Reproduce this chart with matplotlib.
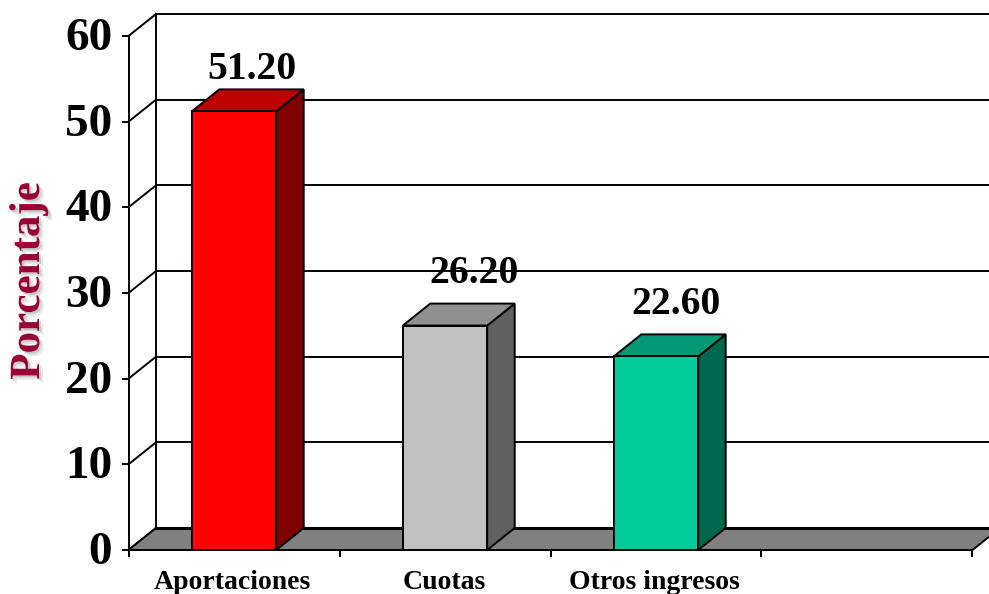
import matplotlib
matplotlib.use('Agg')
import matplotlib.pyplot as plt
import matplotlib.patheffects as pe
from matplotlib.patches import Polygon
from matplotlib.transforms import ScaledTranslation

categories = ['Aportaciones', 'Cuotas', 'Otros ingresos', '']
values = [51.20, 26.20, 22.60]
value_labels = ['51.20', '26.20', '22.60']
face_colors = ['#FF0000', '#C0C0C0', '#00CC99']
top_colors = ['#BF0000', '#909090', '#009973']
side_colors = ['#800000', '#606060', '#00664D']
y_ticks = [0, 10, 20, 30, 40, 50, 60]
# manual placement of the value labels, in pixels from the bar centre / bar top
label_dx_px = [18, 29, 20]
label_dy_px = [42, 52, 52]
cat_dx_px = [-1.5, -1, -2, 0]

W, H = 989, 594
plt.rcParams['font.family'] = ['Liberation Serif', 'DejaVu Serif']
fig = plt.figure(figsize=(W / 100, H / 100), dpi=100, facecolor='white')
L, R, B, T = 128.5, 972.5, 550, 36
ax = fig.add_axes([L / W, 1 - B / H, (R - L) / W, (B - T) / H])
ax.set_xlim(0, len(categories))
ax.set_ylim(0, 60)
ax.patch.set_visible(False)
for s in ['top', 'right', 'bottom', 'left']:
    ax.spines[s].set_visible(False)

# depth of the pseudo-3D box in data units
px_x = len(categories) / (R - L)
px_y = 60 / (B - T)
dx, dy = 27.5 * px_x, 22 * px_y
bar_dx, bar_dy = 27.5 * px_x, 22 * px_y
LW = 1.4
kw = dict(clip_on=False, edgecolor='black', linewidth=LW)

# walls and floor
n = len(categories)
ax.add_patch(Polygon([(0, 0), (n, 0), (n + dx, dy), (dx, dy)], facecolor='#808080', zorder=2, **kw))
ax.plot([dx, n + dx + 1], [dy, dy], color='black', lw=2.2, zorder=2.5, clip_on=False)
for t in y_ticks[1:]:
    ax.plot([dx, n + dx + 1], [t + dy, t + dy], color='black', lw=LW, zorder=1, clip_on=False)
ax.plot([dx, dx], [dy, 60 + dy], color='black', lw=LW, zorder=1, clip_on=False)
for t in y_ticks:
    ax.plot([0, dx], [t, t + dy], color='black', lw=LW, zorder=1, clip_on=False)
ax.plot([0, 0], [0, 60], color='black', lw=LW, zorder=3, clip_on=False)

# axis ticks
ax.set_yticks(y_ticks)
ax.set_xticks(range(n + 1))
ax.set_xticklabels([])
ax.tick_params(axis='y', length=5, width=LW, pad=6.7, labelsize=34)
ax.tick_params(axis='x', length=5, width=LW, direction='out')
lift = ScaledTranslation(0, 2 / 72 * 0.72, fig.dpi_scale_trans)
for lb in ax.get_yticklabels():
    lb.set_fontweight('bold')
    lb.set_transform(lb.get_transform() + lift)
for i, c in enumerate(categories):
    ax.text(i + 0.5 + cat_dx_px[i] * px_x, -2.3, c, ha='center', va='top', fontsize=20,
            fontweight='bold', color='black', clip_on=False)

ax.plot([0, n], [0, 0], color='black', lw=LW, zorder=3, clip_on=False)

# bars
w = 0.4
for i, v in enumerate(values):
    x0, x1 = i + 0.5 - w / 2, i + 0.5 + w / 2
    ax.add_patch(Polygon([(x1, 0), (x1 + bar_dx, bar_dy), (x1 + bar_dx, v + bar_dy), (x1, v)],
                         facecolor=side_colors[i], zorder=4, **kw))
    ax.add_patch(Polygon([(x0, v), (x1, v), (x1 + bar_dx, v + bar_dy), (x0 + bar_dx, v + bar_dy)],
                         facecolor=top_colors[i], zorder=4, **kw))
    ax.bar(i + 0.5, v, width=w, color=face_colors[i], edgecolor='black', linewidth=LW, zorder=5)
    ax.text(i + 0.5 + label_dx_px[i] * px_x, v + label_dy_px[i] * px_y, value_labels[i],
            ha='center', va='center', fontsize=28.5, fontweight='bold', zorder=6, clip_on=False)

# y axis title with a soft shadow
fig.text(29 / W, 1 - 281 / H, 'Porcentaje', rotation=90, ha='center', va='center',
         fontsize=31, fontweight='bold', color='#990033',
         path_effects=[pe.SimplePatchShadow(offset=(3, -3), shadow_rgbFace='#bbbbbb', alpha=0.35),
                       pe.SimplePatchShadow(offset=(1.5, -1.5), shadow_rgbFace='#999999', alpha=0.4),
                       pe.Normal()])

fig.savefig('out.png', dpi=100)
